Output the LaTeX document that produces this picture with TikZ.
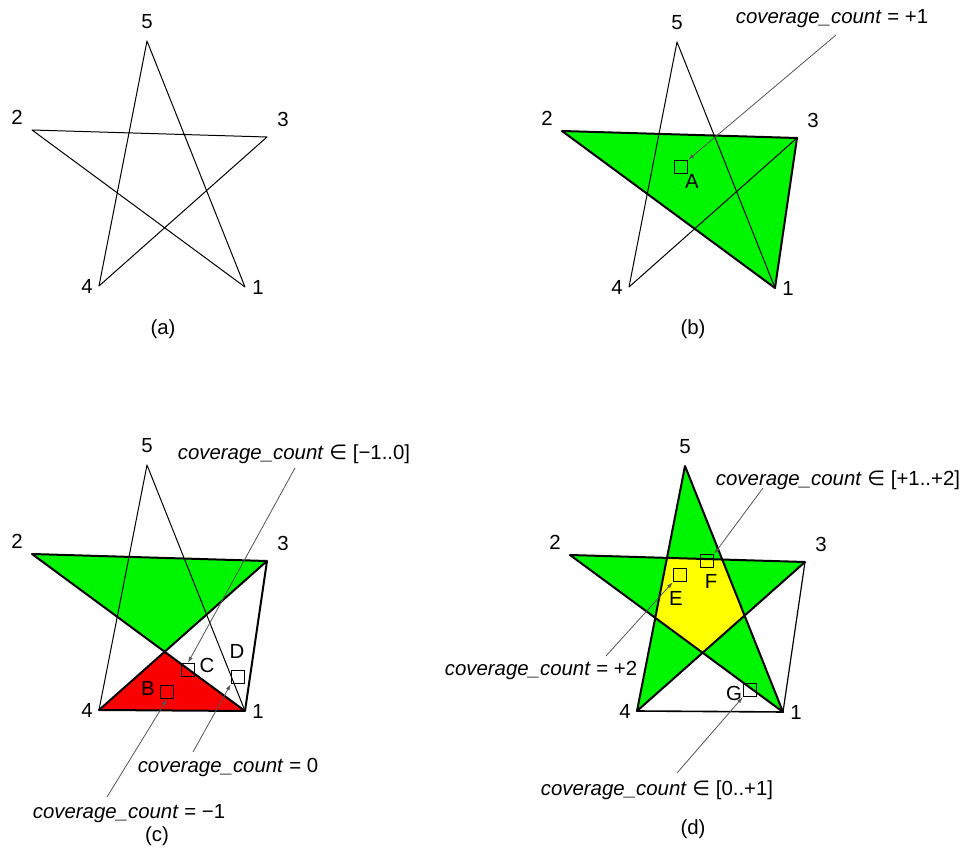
\documentclass[tikz,border=0pt]{standalone}
\usepackage{fontspec}
\setmainfont{Liberation Sans}
\newfontfamily\symfont{DejaVu Sans}
\usetikzlibrary{arrows.meta,positioning}
\definecolor{fillgreen}{RGB}{0,245,0}
\definecolor{fillred}{RGB}{250,0,0}
\definecolor{fillyellow}{RGB}{255,255,0}
\definecolor{leadgray}{RGB}{85,85,85}
\newcommand{\covc}{\textit{coverage\_count}}
\newcommand{\inmark}{{\symfont ∈}}
\tikzset{
  vlab/.style={inner sep=0pt,font=\fontsize{10.2}{12}\selectfont},
  countlab/.style={inner sep=0pt,font=\fontsize{10.2}{12}\selectfont},
  probe/.style={draw,minimum size=6.5pt,inner sep=0pt,line width=0.8pt},
  leader/.style={-{Latex[length=3pt,width=2pt]},line width=0.4pt,leadgray},
  thinedge/.style={line width=0.5pt,line join=round},
  thickedge/.style={line width=1pt,line join=round}
}

\begin{document}
\begin{tikzpicture}[x=0.5pt,y=-0.5pt]
  \useasboundingbox (0,0) rectangle (966,850);
  \foreach \p/\dx/\dy in {a/0/0,b/530/1,c/0/424,d/538/425}{
    \coordinate (\p1) at (245+\dx,287+\dy);
    \coordinate (\p2) at (32+\dx,130+\dy);
    \coordinate (\p3) at (267+\dx,137+\dy);
    \coordinate (\p4) at (99+\dx,286+\dy);
    \coordinate (\p5) at (147+\dx,41+\dy);
    \node[vlab,right=3.5pt of \p1] (n\p1) {1};
    \node[vlab,above left=2.5pt and 4.5pt of \p2] (n\p2) {2};
    \node[vlab,above right=5pt and 5pt of \p3] (n\p3) {3};
    \node[vlab,left=3pt of \p4] (n\p4) {4};
    \node[vlab,above=6pt of \p5] (n\p5) {5};
  }

  % (a)
  \draw[thinedge] (a1)--(a2)--(a3)--(a4)--(a5)--cycle;
  \node[countlab] (capa) at (163,329) {(a)};

  % (b)
  \fill[fillgreen] (b2)--(b3)--(b1)--cycle;
  \draw[thinedge] (b3)--(b4)--(b5)--(b1);
  \draw[thickedge] (b2)--(b3)--(b1)--cycle;
  \node[probe] (pA) at (681,167) {};
  \node[vlab] (lA) at (692,181) {A};
  \node[countlab] (tA) at (832,19) {\covc{} = +1};
  \coordinate (sA) at (836,35);
  \draw[leader] (sA)--(pA.north east);
  \node[countlab] (capb) at (693,329) {(b)};

  % (c)
  \coordinate (cx) at (intersection of c1--c2 and c3--c4);
  \fill[fillgreen] (c2)--(c3)--(cx)--cycle;
  \fill[fillred] (c4)--(c1)--(cx)--cycle;
  \draw[thinedge] (c4)--(c5)--(c1);
  \draw[thickedge] (c1)--(c2)--(c3)--(c4)--cycle (c1)--(c3);
  \node[probe] (pB) at (167,692) {};
  \node[probe] (pC) at (188,670) {};
  \node[probe] (pD) at (238,677) {};
  \node[vlab] (lB) at (148,688) {B};
  \node[vlab] (lC) at (207,665) {C};
  \node[vlab] (lD) at (237,651) {D};
  \node[countlab] (tC) at (294,454) {\covc{} \inmark{} [−1..0]};
  \node[countlab] (tD) at (228,767) {\covc{} = 0};
  \node[countlab] (tB) at (129,814) {\covc{} = −1};
  \coordinate (sC) at (295,468);
  \coordinate (sD) at (193,752);
  \coordinate (sB) at (107,797);
  \draw[leader] (sC)--(pC.north);
  \draw[leader] (sD)--(pD.south west);
  \draw[leader] (sB)--(pB.south);
  \node[countlab] (capc) at (157,836) {(c)};

  % (d)
  \coordinate (dp1) at (intersection of d1--d2 and d3--d4);
  \coordinate (dp2) at (intersection of d1--d2 and d4--d5);
  \coordinate (dp3) at (intersection of d2--d3 and d4--d5);
  \coordinate (dp4) at (intersection of d2--d3 and d5--d1);
  \coordinate (dp5) at (intersection of d3--d4 and d5--d1);
  \fill[fillgreen] (d1)--(d2)--(d3)--(d4)--(d5)--cycle;
  \fill[fillyellow] (dp1)--(dp2)--(dp3)--(dp4)--(dp5)--cycle;
  \draw[thickedge] (d1)--(d2)--(d3)--(d4)--(d5)--cycle;
  \draw[line width=0.8pt] (d4)--(d1);
  \draw[line width=0.6pt] (d3)--(d1);
  \node[probe] (pE) at (680,575) {};
  \node[probe] (pF) at (707,561) {};
  \node[probe] (pG) at (750,690) {};
  \node[vlab] (lE) at (676,598) {E};
  \node[vlab] (lF) at (711,581) {F};
  \node[vlab] (lG) at (734,693) {G};
  \node[countlab] (tF) at (838,480) {\covc{} \inmark{} [+1..+2]};
  \node[countlab] (tE) at (541,670) {\covc{} = +2};
  \node[countlab] (tG) at (657,790) {\covc{} \inmark{} [0..+1]};
  \coordinate (sF) at (763,488);
  \coordinate (sE) at (606,656);
  \coordinate (sG) at (677,773);
  \draw[leader] (sF)--(pF.north east);
  \draw[leader] (sE)--(pE.south west);
  \draw[leader] (sG)--(pG.south west);
  \node[countlab] (capd) at (693,829) {(d)};
\end{tikzpicture}
\end{document}
